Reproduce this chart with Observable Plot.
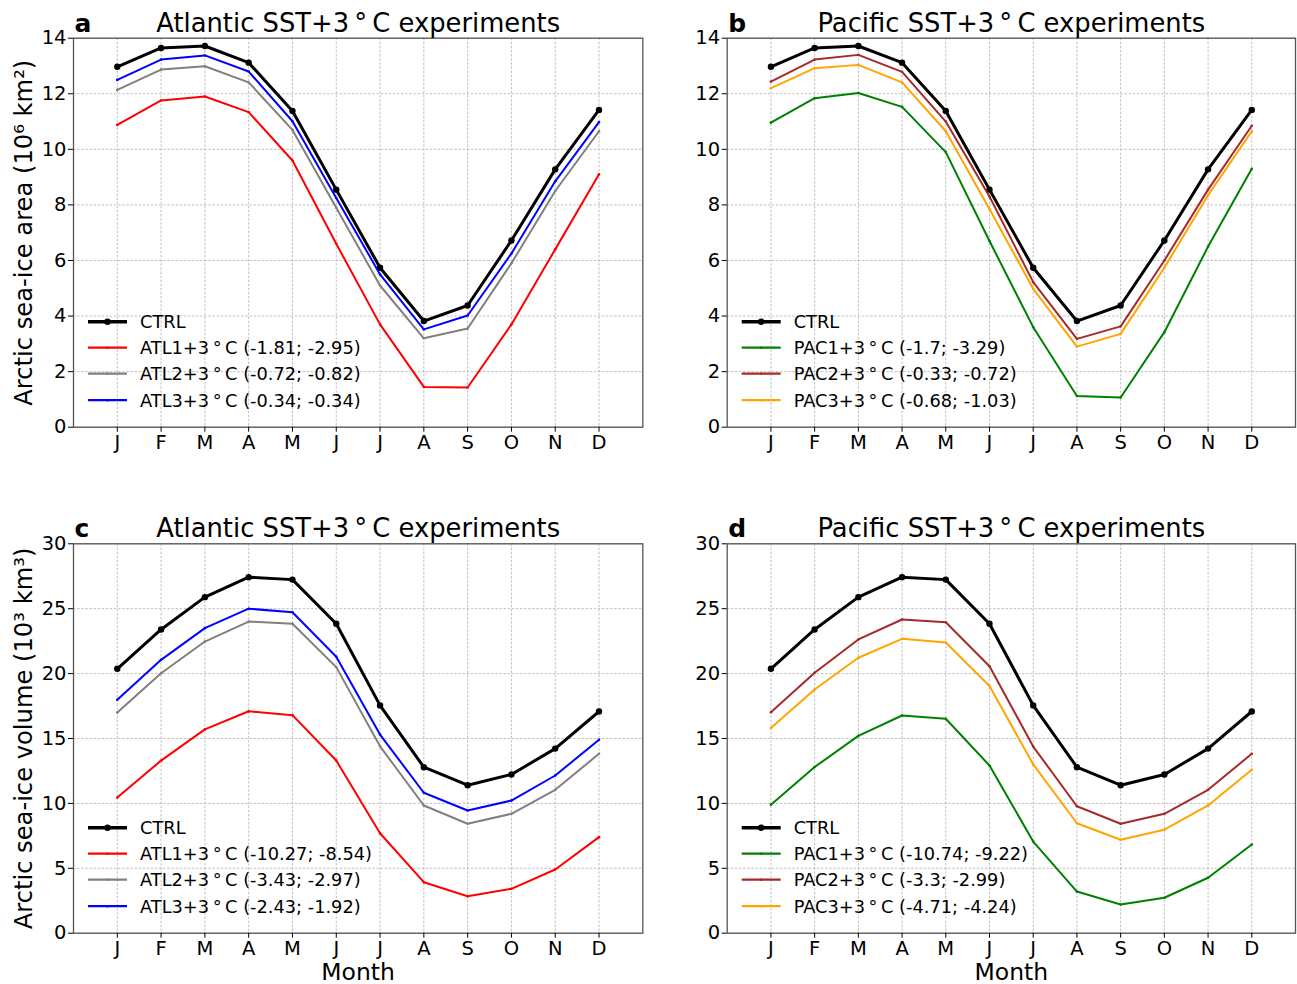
<!DOCTYPE html>
<html><head><meta charset="utf-8">
<script src="https://cdn.jsdelivr.net/npm/d3@7"></script>
<script src="https://cdn.jsdelivr.net/npm/@observablehq/plot@0.6"></script>
<style>
body{margin:0;background:#fff;}
#fig{position:relative;width:1297px;height:984px;font-family:"DejaVu Sans",sans-serif;}
#fig svg{position:absolute;overflow:visible;}
</style>
</head><body><div id="fig"></div>
<script>
const months = ["J","F","M","A","M","J","J","A","S","O","N","D"];
const monthIdx = [1,2,3,4,5,6,7,8,9,10,11,12];

const areaCTRL = [12.97, 13.65, 13.72, 13.12, 11.38, 8.55, 5.74, 3.82, 4.38, 6.72, 9.28, 11.42];
const areaATL1 = [10.88, 11.76, 11.90, 11.34, 9.60, 6.60, 3.70, 1.45, 1.43, 3.70, 6.40, 9.10];
const areaATL2 = [12.14, 12.87, 12.99, 12.41, 10.70, 7.90, 5.10, 3.20, 3.55, 5.90, 8.50, 10.65];
const areaATL3 = [12.50, 13.23, 13.38, 12.80, 11.01, 8.25, 5.50, 3.52, 4.02, 6.25, 8.85, 10.98];
const areaPAC1 = [10.96, 11.84, 12.03, 11.53, 9.90, 6.70, 3.60, 1.12, 1.07, 3.42, 6.50, 9.30];
const areaPAC2 = [12.44, 13.23, 13.40, 12.79, 11.00, 8.30, 5.22, 3.18, 3.63, 6.00, 8.55, 10.85];
const areaPAC3 = [12.20, 12.92, 13.04, 12.41, 10.65, 7.85, 4.98, 2.90, 3.36, 5.74, 8.35, 10.65];

const volCTRL = [20.37, 23.40, 25.89, 27.43, 27.24, 23.84, 17.55, 12.79, 11.40, 12.23, 14.22, 17.08];
const volATL1 = [10.45, 13.30, 15.70, 17.10, 16.80, 13.30, 7.70, 3.93, 2.85, 3.42, 4.91, 7.40];
const volATL2 = [17.00, 20.03, 22.47, 24.01, 23.84, 20.50, 14.40, 9.84, 8.43, 9.20, 11.05, 13.82];
const volATL3 = [17.98, 21.06, 23.50, 25.00, 24.73, 21.30, 15.30, 10.82, 9.45, 10.22, 12.15, 14.90];
const volPAC1 = [9.90, 12.80, 15.20, 16.77, 16.52, 12.92, 7.06, 3.21, 2.21, 2.73, 4.27, 6.83];
const volPAC2 = [17.03, 20.06, 22.63, 24.17, 23.96, 20.57, 14.38, 9.78, 8.43, 9.20, 11.05, 13.82];
const volPAC3 = [15.80, 18.78, 21.22, 22.68, 22.40, 19.05, 13.00, 8.47, 7.20, 7.97, 9.84, 12.59];

const deg = "3\u2009°\u2009C";
const labelsA = ["CTRL", `ATL1+${deg} (-1.81; -2.95)`, `ATL2+${deg} (-0.72; -0.82)`, `ATL3+${deg} (-0.34; -0.34)`];
const labelsB = ["CTRL", `PAC1+${deg} (-1.7; -3.29)`, `PAC2+${deg} (-0.33; -0.72)`, `PAC3+${deg} (-0.68; -1.03)`];
const labelsC = ["CTRL", `ATL1+${deg} (-10.27; -8.54)`, `ATL2+${deg} (-3.43; -2.97)`, `ATL3+${deg} (-2.43; -1.92)`];
const labelsD = ["CTRL", `PAC1+${deg} (-10.74; -9.22)`, `PAC2+${deg} (-3.3; -2.99)`, `PAC3+${deg} (-4.71; -4.24)`];

const atlColors = ["black", "red", "gray", "blue"];
const pacColors = ["black", "green", "brown", "orange"];

const yTicksArea = [0,2,4,6,8,10,12,14];
const yTicksVol = [0,5,10,15,20,25,30];

const fig = document.getElementById("fig");

function panel(o) {
  const W = o.width, H = o.height;
  const marks = [
    Plot.gridX(monthIdx, {stroke: "#b0b0b0", strokeOpacity: 1, strokeWidth: 0.8, strokeDasharray: "2.5,1.6"}),
    Plot.gridY(o.yTicks, {stroke: "#b0b0b0", strokeOpacity: 1, strokeWidth: 0.8, strokeDasharray: "2.5,1.6"}),
  ];
  o.series.forEach((vals, k) => {
    const d = vals.map((v, i) => ({month: i + 1, value: v}));
    const isCtrl = k === 0;
    marks.push(Plot.line(d, {x: "month", y: "value", stroke: o.colors[k], strokeWidth: isCtrl ? 3 : 2}));
    marks.push(Plot.dot(d, {x: "month", y: "value", fill: o.colors[k], r: isCtrl ? 3.2 : 1.3, stroke: null}));
  });
  marks.push(Plot.frame({stroke: "#555", strokeWidth: 1.3}));
  marks.push(Plot.axisX(monthIdx, {tickFormat: d => months[d - 1], tickSize: 5, tickPadding: 2.5, fontSize: 19.5, label: null}));
  marks.push(Plot.axisY(o.yTicks, {tickSize: 5, tickPadding: 2, fontSize: 19.5, label: null}));
  marks.push(Plot.text([o.title], {text: d => d, frameAnchor: "top", textAnchor: "middle", lineAnchor: "bottom", dy: -6.5, fontSize: 25.8}));
  marks.push(Plot.text([o.letter], {text: d => d, frameAnchor: "top-left", textAnchor: "start", lineAnchor: "bottom", dx: 1, dy: -6.5, fontSize: 25, fontWeight: "bold"}));
  if (o.ylabel) marks.push(Plot.text([o.ylabel], {text: d => d, frameAnchor: "left", textAnchor: "middle", lineAnchor: "middle", dx: -49, rotate: -90, fontSize: 24.2}));
  if (o.xlabel) marks.push(Plot.text([o.xlabel], {text: d => d, frameAnchor: "bottom", textAnchor: "middle", lineAnchor: "bottom", dy: 47, fontSize: 23.5}));

  const svg = Plot.plot({
    width: W, height: H,
    marginLeft: o.ml, marginRight: o.mr, marginTop: o.mt, marginBottom: o.mb,
    x: {domain: [0, 13]},
    y: {domain: o.yDomain},
    style: {fontFamily: "DejaVu Sans, sans-serif", color: "black", background: "transparent", overflow: "visible"},
    marks
  });
  svg.style.left = o.left + "px";
  svg.style.top = o.top + "px";

  // legend (no frame), lower left inside axes
  const g = d3.select(svg).append("g")
    .attr("font-family", "DejaVu Sans, sans-serif").attr("font-size", 17.8).attr("text-anchor", "start");
  const fx = o.ml, fb = H - o.mb;
  const rows = [-105, -79, -53, -26.5];
  o.labels.forEach((lab, k) => {
    const y = fb + rows[k];
    const isCtrl = k === 0;
    g.append("line").attr("x1", fx + 15).attr("x2", fx + 54).attr("y1", y).attr("y2", y)
      .attr("stroke", o.colors[k]).attr("stroke-width", isCtrl ? 3.5 : 2.2);
    g.append("circle").attr("cx", fx + 34.5).attr("cy", y).attr("r", isCtrl ? 3.2 : 1.3).attr("fill", o.colors[k]);
    g.append("text").attr("x", fx + 67).attr("y", y).attr("dy", "0.36em")
      .attr("text-anchor", "start").attr("fill", "black").text(lab);
  });
  fig.appendChild(svg);
}

panel({left: 0, top: 0, width: 648, height: 492, ml: 73, mr: 5.7, mt: 37.7, mb: 65.3,
  yDomain: [0, 14], yTicks: yTicksArea, series: [areaCTRL, areaATL1, areaATL2, areaATL3],
  colors: atlColors, labels: labelsA, title: `Atlantic SST+${deg} experiments`, letter: "a",
  ylabel: "Arctic sea-ice area (10\u2076 km\u00B2)"});
panel({left: 648, top: 0, width: 649, height: 492, ml: 78.7, mr: 2, mt: 37.7, mb: 65.3,
  yDomain: [0, 14], yTicks: yTicksArea, series: [areaCTRL, areaPAC1, areaPAC2, areaPAC3],
  colors: pacColors, labels: labelsB, title: `Pacific SST+${deg} experiments`, letter: "b"});
panel({left: 0, top: 492, width: 648, height: 492, ml: 73, mr: 5.7, mt: 51.3, mb: 51.3,
  yDomain: [0, 30], yTicks: yTicksVol, series: [volCTRL, volATL1, volATL2, volATL3],
  colors: atlColors, labels: labelsC, title: `Atlantic SST+${deg} experiments`, letter: "c",
  ylabel: "Arctic sea-ice volume (10\u00B3 km\u00B3)", xlabel: "Month"});
panel({left: 648, top: 492, width: 649, height: 492, ml: 78.7, mr: 2, mt: 51.3, mb: 51.3,
  yDomain: [0, 30], yTicks: yTicksVol, series: [volCTRL, volPAC1, volPAC2, volPAC3],
  colors: pacColors, labels: labelsD, title: `Pacific SST+${deg} experiments`, letter: "d",
  xlabel: "Month"});
</script>
</body></html>
